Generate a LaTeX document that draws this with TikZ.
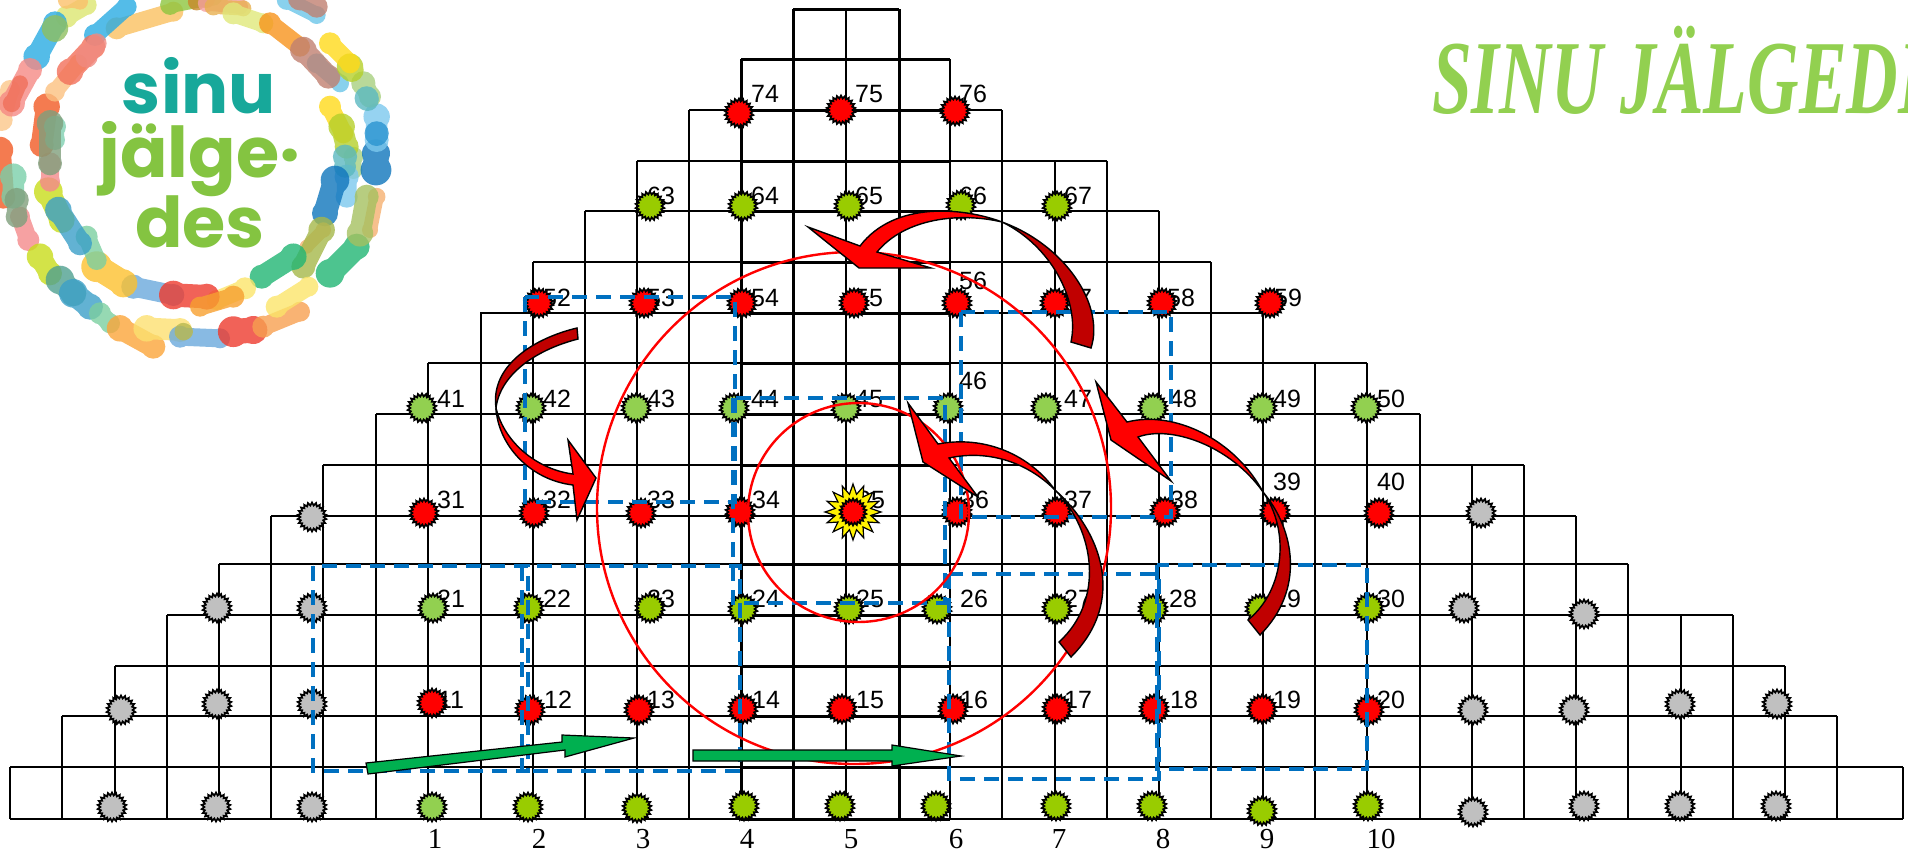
\documentclass[tikz,border=0pt]{standalone}
\usepackage{fontspec}
\usetikzlibrary{shapes.geometric}
\setmainfont{Liberation Sans}
\newfontfamily\axisfont{Liberation Serif}
\newfontfamily\titlefont[FakeStretch=0.68]{Liberation Serif}
\newfontfamily\logofont{Poppins}
\definecolor{nr}{HTML}{FF0000}
\definecolor{ng}{HTML}{99CC00}
\definecolor{nl}{HTML}{92D050}
\definecolor{ny}{HTML}{C0C0C0}
\definecolor{dashblue}{HTML}{0070C0}
\definecolor{darkred}{HTML}{C00000}
\definecolor{arrowgreen}{HTML}{00B050}
\definecolor{logoteal}{HTML}{17A89A}
\definecolor{logogreen}{HTML}{84C441}
\newcommand\lgblob[6]{\definecolor{tmpc}{HTML}{#6}\begin{scope}[transparency group,opacity=.8]
\draw[tmpc,line cap=round,line width={#5*0.36}] (#1/3,#2/3) -- (#3/3,#4/3);
\fill[tmpc] (#1/3,#2/3) circle [radius={#5*0.22}];
\fill[tmpc] (#3/3,#4/3) circle [radius={#5*0.2}];
\end{scope}}
\tikzset{
  burst/.style={star,star points=22,star point ratio=1.25,minimum size=29pt,inner sep=0pt,draw=black,line width=1.7pt,miter limit=4},
  numlabel/.style={inner sep=0pt,font=\fontsize{25}{25}\selectfont},
  axislabel/.style={inner sep=0pt,font=\axisfont\fontsize{29}{29}\selectfont},
  dashrect/.style={draw=dashblue,line width=4pt,dash pattern=on 15pt off 9pt},
  redring/.style={draw=nr,line width=2.4pt},
  curvedark/.style={fill=darkred,draw=black,line width=1.4pt,line join=miter},
  curvered/.style={fill=nr,draw=black,line width=1.4pt,line join=miter},
  straightgreen/.style={fill=arrowgreen,draw=black,line width=1.2pt,line join=miter},
  logoword/.style={inner sep=0pt,anchor=base,font=\logofont\bfseries\fontsize{70}{70}\selectfont}
}
\begin{document}
\begin{tikzpicture}[x=1pt,y=-1pt]
\useasboundingbox (0,0) rectangle (1908,854);
\clip (0,0) rectangle (1908,854);
% horizontal grid lines
\foreach \yy/\xa/\xb/\lw in {9/793/899/3,59/741/950/3,110/689/1002/2.4,161/637/1107/2.2,211/585/1159/2.2,262/533/1211/2.2,313/480/1263/2.2,363/428/1367/2.2,414/376/1420/2.2,465/323/1524/2.6,516/271/1576/1.2,564/219/1628/2.6,615/167/1733/2.4,666/115/1785/2.2,716/62/1837/2.2,767/10/1903/2.2,819/10/1903/2.4}
  \draw[line width=\lw pt,line cap=square] (\xa,\yy) -- (\xb,\yy);
\foreach \yy in {110,161,211,262,313,363,414,465,564,615,666,716,767,819}
  \draw[line width=3pt] (741,\yy) -- (950,\yy);
% vertical grid lines
\foreach \xx/\ya/\lw in {10/767/2.2,62/716/2.2,115/666/2.2,167/615/2.2,219/564/2.6,271/516/2.8,323/465/2.6,376/414/2.2,428/363/2.2,481/313/2.2,533/262/2.2,585/211/2.2,637/161/2.2,689/110/2.2,741/59/3,793/9/3,846/9/1.2,899/9/3,950/59/2.2,1002/110/2.2,1055/161/2.2,1107/161/2.2,1159/211/2.2,1211/262/2.2,1263/300/2.2,1315/363/2.2,1367/363/2.2,1420/414/2.2,1472/465/2.2,1576/516/2.2,1628/564/2.2,1681/615/2.2,1733/615/2.2,1785/666/2.2,1837/716/2.2,1903/767/2.2}
  \draw[line width=\lw pt] (\xx,\ya) -- (\xx,819);
\draw[line width=1.1pt] (1524,465) -- (1524,615);
\draw[line width=2.2pt] (1524,615) -- (1524,819);
% labels
\foreach \t/\xx/\yy in {74/765/94,75/869/94,76/973/94,63/661/196,64/765/196,65/869/196,66/973/196,67/1078/196,52/557/298,53/661/298,54/765/298,55/869/298,56/973/281,57/1078/298,58/1181/298,59/1288/298,41/451/399,42/557/399,43/661/399,44/765/399,45/869/399,46/973/381,47/1078/399,48/1183/399,49/1287/399,50/1391/399,31/451/500,32/557/500,33/661/500,34/766/500,35/871/500,36/975/500,37/1078/500,38/1184/500,39/1287/482,40/1391/482,21/451/599,22/557/599,23/661/599,24/766/599,25/870/599,26/974/599,27/1078/599,28/1183/599,29/1287/599,30/1391/599,11/451/700,12/558/700,13/661/700,14/766/700,15/870/700,16/974/700,17/1078/700,18/1184/700,19/1287/700,20/1391/700}
  \node[numlabel] (l\t) at (\xx,\yy) {\t};
\foreach \t/\xx in {1/435,2/539,3/643,4/747,5/851,6/956,7/1059,8/1163,9/1267,10/1381}
  \node[axislabel] (a\t) at (\xx,839) {\t};
% burst markers
\foreach \t/\xx/\yy/\cc in {74/739/113/nr,75/841/110/nr,76/955/111/nr,63/650/206/ng,64/743/206/ng,65/849/206/ng,66/961/205/ng,67/1057/206/ng,52/539/303/nr,53/644/303/nr,54/742/303/nr,55/854/303/nr,56/957/303/nr,57/1055/303/nr,58/1162/303/nr,59/1270/303/nr,41/422/408/nl,42/531/408/nl,43/636/408/nl,44/734/408/nl,45/846/408/nl,46/948/408/nl,47/1046/408/nl,48/1153/408/nl,49/1262/408/nl,50/1366/408/nl,31/424/513/nr,32/534/513/nr,33/641/513/nr,34/740/512/nr,36/957/512/nr,37/1057/512/nr,38/1165/512/nr,39/1275/512/nr,40/1379/513/nr,21/433/608/nl,22/529/608/ng,23/650/608/ng,24/743/609/ng,25/849/609/ng,26/937/609/ng,27/1057/609/ng,28/1153/609/ng,29/1260/609/ng,30/1369/608/ng,11/432/703/nr,12/530/710/nr,13/639/710/nr,14/743/709/nr,15/842/709/nr,16/953/709/nr,17/1057/709/nr,18/1154/709/nr,19/1262/709/nr,20/1369/710/nr,b1/432/807/nl,b2/528/807/ng,b3/637/808/ng,b4/744/806/ng,b5/840/806/ng,b6/936/806/ng,b7/1056/806/ng,b8/1152/806/ng,b9/1262/811/ng,b10/1368/806/ng,g1/312/517/ny,g2/1481/513/ny,g3/217/608/ny,g4/312/608/ny,g5/1464/608/ny,g6/1584/614/ny,g7/121/710/ny,g8/217/704/ny,g9/312/704/ny,g10/1473/710/ny,g11/1574/710/ny,g12/1680/704/ny,g13/1777/704/ny,g14/112/807/ny,g15/216/807/ny,g16/312/807/ny,g17/1473/812/ny,g18/1584/806/ny,g19/1680/806/ny,g20/1776/806/ny}
  \node[burst,fill=\cc] (m\t) at (\xx,\yy) {};
\node[star,star points=16,star point ratio=1.55,minimum size=56pt,inner sep=0pt,fill=yellow,draw=black,line width=1.2pt] (m35y) at (853,512) {};
\node[burst,fill=nr,minimum size=27pt] (m35) at (853,512) {};
% dashed rectangles
\draw[dashrect] (525,297) rectangle (735,502);
\draw[dashrect] (961,312) rectangle (1171,517);
\draw[dashrect] (733,398) rectangle (945,603);
\draw[dashrect] (313,566) rectangle (528,771);
\draw[dashrect] (522,566) rectangle (740,771);
\draw[dashrect] (949,574) rectangle (1159,779);
\draw[dashrect] (1157,565) rectangle (1367,769);
% red rings
\draw[redring] (858.5,512.5) ellipse [x radius=110.5,y radius=109.5];
\draw[redring] (854,508) ellipse [x radius=257,y radius=256];
% curved arrows
\draw[curvedark] (1002,222) .. controls (1065,245) and (1105,305) .. (1091,348) -- (1071,342) .. controls (1080,300) and (1050,245) .. (1002,222) -- cycle;
\draw[curvered] (1002,222) .. controls (965,208) and (895,200) .. (860,246) -- (808,227) -- (859,268) -- (931,268) -- (877,252) .. controls (905,218) and (960,212) .. (1002,222) -- cycle;
\draw[curvedark] (577,328) .. controls (535,338) and (490,365) .. (496,408) .. controls (500,375) and (535,350) .. (578,339) -- cycle;
\draw[curvered] (496,408) .. controls (498,445) and (530,480) .. (573,485) -- (577,520) -- (596,478) -- (568,440) -- (573,474) .. controls (540,470) and (505,445) .. (496,408) -- cycle;
\draw[curvedark] (1055,490) .. controls (1100,530) and (1128,600) .. (1071,657) -- (1059,642) .. controls (1105,600) and (1095,530) .. (1055,490) -- cycle;
\draw[curvered] (1055,490) .. controls (1030,455) and (985,435) .. (938,444) -- (908,403) -- (923,462) -- (978,497) -- (949,458) .. controls (985,450) and (1025,460) .. (1055,490) -- cycle;
\draw[curvedark] (1263,492) .. controls (1295,530) and (1305,590) .. (1260,635) -- (1248,620) .. controls (1285,590) and (1290,530) .. (1263,492) -- cycle;
\draw[curvered] (1263,492) .. controls (1235,440) and (1175,410) .. (1127,422) -- (1096,382) -- (1111,440) -- (1171,481) -- (1138,437) .. controls (1170,425) and (1230,445) .. (1263,492) -- cycle;
% straight arrows
\draw[straightgreen] (366,763) -- (562,742) -- (562,735) -- (634,738) -- (565,757) -- (565,750) -- (368,774) -- cycle;
\draw[straightgreen] (693,750) -- (892,750) -- (892,745) -- (961,756) -- (892,766) -- (892,761) -- (693,761) -- cycle;
% title
\node[anchor=base west,inner sep=0pt,text=nl,font=\titlefont\bfseries\itshape\fontsize{105}{105}\selectfont] (title) at (1432,113) {SINU JÄLGEDES};
% logo: inner ring
\lgblob{350}{85}{520}{35}{50}{FAC060}
\lgblob{285}{105}{380}{20}{50}{29ABE2}
\lgblob{510}{15}{640}{-10}{45}{8DC63F}
\lgblob{590}{5}{620}{0}{40}{C8882A}
\lgblob{620}{10}{720}{20}{40}{F4A0A0}
\lgblob{640}{20}{730}{25}{40}{E8B050}
\lgblob{700}{40}{790}{70}{50}{E0E87A}
\lgblob{810}{70}{900}{140}{50}{F7941D}
\lgblob{950}{190}{1020}{250}{45}{6CC5E8}
\lgblob{910}{150}{985}{230}{60}{C08070}
\lgblob{990}{320}{1030}{400}{50}{FFD91A}
\lgblob{1060}{470}{1060}{510}{45}{A8D080}
\lgblob{1025}{380}{1040}{440}{60}{B5CF2A}
\lgblob{1040}{530}{1040}{590}{55}{7CC8EE}
\lgblob{1035}{470}{1035}{500}{55}{5BB8C0}
\lgblob{1005}{540}{975}{640}{65}{0F75BC}
\lgblob{970}{690}{920}{740}{35}{F5B070}
\lgblob{965}{690}{910}{800}{60}{A5B84A}
\lgblob{880}{770}{785}{830}{60}{21B573}
\lgblob{735}{865}{650}{900}{50}{FBE56A}
\lgblob{400}{860}{520}{885}{55}{6AA9DC}
\lgblob{520}{885}{620}{890}{65}{EE3B2E}
\lgblob{700}{890}{600}{920}{50}{F7A030}
\lgblob{290}{800}{370}{850}{70}{FCC02E}
\lgblob{260}{710}{290}{780}{50}{7CCFA0}
\lgblob{145}{575}{185}{660}{65}{C8DC1A}
\lgblob{175}{630}{240}{730}{60}{3B9FC8}
\lgblob{150}{490}{150}{545}{50}{F4898B}
\lgblob{140}{320}{125}{435}{60}{F15A24}
\lgblob{165}{380}{165}{420}{50}{7FD0B0}
\lgblob{150}{370}{150}{490}{60}{7F9F7C}
\lgblob{165}{275}{235}{190}{45}{FBC080}
\lgblob{210}{215}{280}{140}{60}{F26F5A}
\lgblob{260}{170}{290}{130}{50}{F08A80}
% logo: outer ring
\lgblob{200}{50}{260}{15}{50}{DCE670}
\lgblob{110}{170}{165}{70}{60}{29ABE2}
\lgblob{165}{85}{165}{90}{60}{8FBF60}
\lgblob{5}{360}{30}{270}{50}{FBC78A}
\lgblob{35}{310}{90}{210}{60}{F58A85}
\lgblob{35}{310}{60}{250}{40}{F0705A}
\lgblob{0}{450}{10}{590}{60}{F15A24}
\lgblob{85}{720}{60}{650}{50}{F4898B}
\lgblob{40}{530}{40}{590}{60}{7ACFAA}
\lgblob{50}{600}{50}{650}{55}{7F9F7C}
\lgblob{120}{770}{150}{820}{60}{C8DC1A}
\lgblob{180}{840}{220}{880}{65}{4FA090}
\lgblob{220}{880}{270}{920}{65}{3B9FC8}
\lgblob{300}{940}{330}{970}{50}{7CCFA0}
\lgblob{360}{985}{460}{1040}{60}{FBA53A}
\lgblob{440}{985}{540}{990}{60}{FCE070}
\lgblob{540}{1010}{660}{1015}{50}{6AA9DC}
\lgblob{550}{995}{555}{995}{40}{B8B850}
\lgblob{700}{995}{760}{990}{70}{EE3B2E}
\lgblob{790}{980}{900}{935}{50}{F7A050}
\lgblob{830}{920}{925}{860}{50}{FBE56A}
\lgblob{990}{820}{1070}{740}{65}{21B573}
\lgblob{1130}{590}{1110}{690}{40}{F5B070}
\lgblob{1080}{700}{1100}{590}{60}{A5C060}
\lgblob{1128}{510}{1128}{460}{70}{0F75BC}
\lgblob{1130}{350}{1130}{420}{60}{7CC8EE}
\lgblob{1130}{400}{1130}{405}{55}{2A94D0}
\lgblob{1090}{250}{1110}{290}{55}{A8D080}
\lgblob{1100}{295}{1103}{300}{55}{5BB8C0}
\lgblob{1050}{200}{1055}{210}{60}{B5CF2A}
\lgblob{990}{130}{1050}{190}{50}{FFD91A}
\lgblob{860}{0}{950}{45}{45}{6CC5E8}
\lgblob{900}{-5}{950}{20}{55}{C08070}
\lgblob{200}{0}{240}{5}{40}{FBC06A}
% logo text
\node[logoword,text=logoteal] (sinu) at (199,113) {sinu};
\node[logoword,text=logogreen] (jalge) at (200,177) {jälge·};
\node[logoword,text=logogreen] (des) at (200,247) {des};
\end{tikzpicture}
\end{document}
